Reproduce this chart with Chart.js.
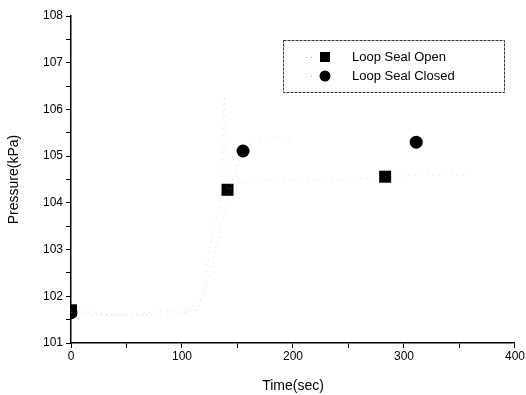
<!DOCTYPE html>
<html>
<head>
<meta charset="utf-8">
<script src="https://cdn.jsdelivr.net/npm/chart.js@4/dist/chart.umd.min.js"></script>
<style>
  html, body { margin: 0; padding: 0; background: #fff; }
  #wrap { width: 526px; height: 395px; }
</style>
</head>
<body>
<div id="wrap"><canvas id="chart"></canvas></div>
<script>
'use strict';

// faint measured traces
const openTraceTime = [0, 20, 40, 60, 80, 100, 115, 120, 125, 130, 135, 138, 141, 150, 170, 200, 250, 283, 320, 360];
const openTracePressure = [101.7, 101.65, 101.6, 101.6, 101.7, 101.65, 101.7, 102.3, 103.0, 103.6, 104.0, 106.3, 104.28, 104.4, 104.5, 104.5, 104.5, 104.56, 104.6, 104.6];
const closedTraceTime = [0, 30, 60, 100, 120, 130, 140, 148, 155, 165, 180, 200];
const closedTracePressure = [101.65, 101.6, 101.6, 101.6, 102.0, 103.0, 104.0, 104.7, 105.11, 105.3, 105.4, 105.35];

// symbol markers
const openMarkTime = [0, 141, 283];
const openMarkPressure = [101.7, 104.28, 104.56];
const closedMarkTime = [0, 155, 311];
const closedMarkPressure = [101.65, 105.11, 105.3];

const seriesNames = ['Loop Seal Open', 'Loop Seal Closed'];
const yTicks = [101, 102, 103, 104, 105, 106, 107, 108];
const xTicks = [0, 100, 200, 300, 400];

const FONT = '"Liberation Sans", Arial, sans-serif';
const toXY = (xs, ys) => xs.map((x, i) => ({ x: x, y: ys[i] }));

// markers at the frame edge are cut by the plot area
const clipToArea = {
    id: 'clipToArea',
    beforeDatasetDraw(chart) {
        const a = chart.chartArea;
        chart.ctx.save();
        chart.ctx.beginPath();
        chart.ctx.rect(a.left, a.top, a.right - a.left, a.bottom - a.top);
        chart.ctx.clip();
    },
    afterDatasetDraw(chart) {
        chart.ctx.restore();
    }
};

const legendBox = {
    id: 'legendBox',
    afterDraw(chart) {
        const ctx = chart.ctx;
        ctx.save();
        ctx.strokeStyle = '#333';
        ctx.lineWidth = 1;
        ctx.setLineDash([3, 1]);
        ctx.strokeRect(283.5, 40.5, 221, 52);
        ctx.setLineDash([]);
        ctx.fillStyle = '#000';
        ctx.font = '13px ' + FONT;
        ctx.textBaseline = 'middle';
        // row 1: square
        ctx.fillRect(320, 52, 10, 10);
        ctx.fillText(seriesNames[0], 352, 57);
        // row 2: circle
        ctx.beginPath();
        ctx.arc(325, 76, 5.5, 0, Math.PI * 2);
        ctx.fill();
        ctx.fillText(seriesNames[1], 352, 76);
        // faint dotted lead-ins
        ctx.fillStyle = '#aaa';
        [306, 311].forEach((x) => ctx.fillRect(x, 57, 1, 1));
        ctx.fillRect(311, 76, 1, 1);
        ctx.restore();
    }
};

const chart = new Chart(document.getElementById('chart'), {
    type: 'scatter',
    data: {
        datasets: [
            {
                label: seriesNames[0] + ' trace',
                data: toXY(openTraceTime, openTracePressure),
                showLine: true,
                borderColor: 'rgba(160,160,160,0.4)',
                borderWidth: 1,
                borderDash: [1, 5],
                pointRadius: 0
            },
            {
                label: seriesNames[1] + ' trace',
                data: toXY(closedTraceTime, closedTracePressure),
                showLine: true,
                borderColor: 'rgba(160,160,160,0.4)',
                borderWidth: 1,
                borderDash: [1, 4],
                pointRadius: 0
            },
            {
                label: seriesNames[0],
                data: toXY(openMarkTime, openMarkPressure),
                pointStyle: 'rect',
                pointRadius: 8.5,
                backgroundColor: '#000',
                borderColor: '#000',
                borderWidth: 0,
                clip: 0
            },
            {
                label: seriesNames[1],
                data: toXY(closedMarkTime, closedMarkPressure),
                pointStyle: 'circle',
                pointRadius: 6.5,
                backgroundColor: '#000',
                borderColor: '#000',
                borderWidth: 0,
                clip: 0
            }
        ]
    },
    options: {
        responsive: true,
        maintainAspectRatio: false,
        animation: false,
        layout: { padding: { top: 16, right: 10, left: 0, bottom: 0 } },
        plugins: {
            legend: { display: false },
            tooltip: { enabled: false }
        },
        scales: {
            x: {
                type: 'linear',
                min: 0,
                max: 400,
                afterBuildTicks: (axis) => {
                    axis.ticks = [0, 50, 100, 150, 200, 250, 300, 350, 400].map((v) => ({ value: v }));
                },
                ticks: {
                    color: '#000',
                    font: { family: FONT, size: 12 },
                    padding: 1,
                    maxRotation: 0,
                    callback: (v) => xTicks.includes(v) ? String(v) : ''
                },
                grid: {
                    drawOnChartArea: false,
                    tickLength: 5,
                    color: '#000',
                    tickColor: '#000'
                },
                border: { color: '#000', width: 1.5 },
                title: {
                    display: true,
                    text: 'Time(sec)',
                    color: '#000',
                    font: { family: FONT, size: 14 },
                    padding: { top: 2, bottom: 0 }
                },
                afterFit: (axis) => { axis.height = 52; }
            },
            y: {
                type: 'linear',
                min: 101,
                max: 108,
                afterBuildTicks: (axis) => {
                    const t = [];
                    for (let v = 101; v <= 108; v += 0.5) t.push({ value: v });
                    axis.ticks = t;
                },
                ticks: {
                    color: '#000',
                    font: { family: FONT, size: 12 },
                    padding: 3,
                    callback: (v) => yTicks.includes(v) ? String(v) : ''
                },
                grid: {
                    drawOnChartArea: false,
                    tickLength: 5,
                    color: '#000',
                    tickColor: '#000'
                },
                border: { color: '#000', width: 1.5 },
                title: {
                    display: true,
                    text: 'Pressure(kPa)',
                    color: '#000',
                    font: { family: FONT, size: 14 },
                    padding: { top: 6, bottom: 4 }
                },
                afterFit: (axis) => { axis.width = 71; }
            }
        }
    },
    plugins: [clipToArea, legendBox]
});
</script>
</body>
</html>
